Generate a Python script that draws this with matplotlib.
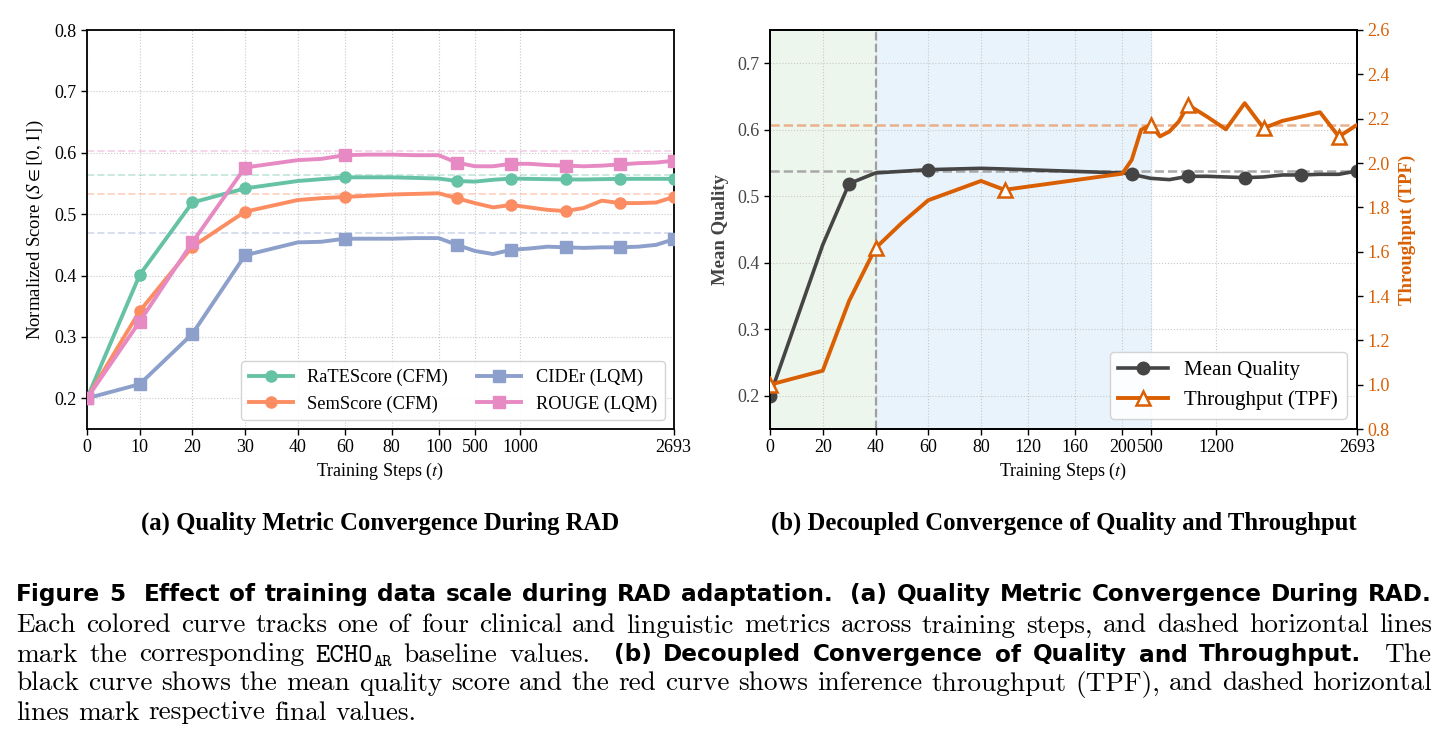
import numpy as np
import matplotlib.pyplot as plt
from matplotlib.lines import Line2D

plt.rcParams['font.family'] = 'Liberation Serif'
plt.rcParams['mathtext.fontset'] = 'stix'

# ---- (a) quality metrics ----
steps_a = [0, 10, 20, 30, 40, 50, 60, 70, 80, 90, 100, 300, 500, 700, 900,
           1100, 1300, 1500, 1700, 1900, 2100, 2300, 2500, 2693]
ratescore = [0.200, 0.401, 0.519, 0.542, 0.554, 0.557, 0.560, 0.560, 0.560, 0.559, 0.558, 0.554,
             0.553, 0.556, 0.558, 0.5575, 0.557, 0.5565, 0.5565, 0.557, 0.5575, 0.5575, 0.5575, 0.5575]
semscore = [0.200, 0.342, 0.447, 0.504, 0.523, 0.526, 0.528, 0.530, 0.532, 0.533, 0.534, 0.526,
            0.518, 0.511, 0.515, 0.511, 0.507, 0.505, 0.510, 0.522, 0.518, 0.518, 0.519, 0.528]
cider = [0.200, 0.223, 0.305, 0.433, 0.454, 0.455, 0.460, 0.460, 0.460, 0.461, 0.461, 0.450,
         0.440, 0.435, 0.442, 0.444, 0.447, 0.446, 0.445, 0.446, 0.446, 0.447, 0.450, 0.459]
rouge = [0.200, 0.325, 0.454, 0.576, 0.588, 0.590, 0.596, 0.597, 0.597, 0.596, 0.596, 0.584,
         0.578, 0.578, 0.582, 0.582, 0.580, 0.579, 0.578, 0.579, 0.581, 0.583, 0.584, 0.587]
baselines = [0.564, 0.533, 0.470, 0.603]   # ECHO_AR: RaTEScore, SemScore, CIDEr, ROUGE
names_a = ['RaTEScore (CFM)', 'SemScore (CFM)', 'CIDEr (LQM)', 'ROUGE (LQM)']
ticks_a = [0, 10, 20, 30, 40, 60, 80, 100, 500, 1000, 2693]

# ---- (b) quality vs throughput ----
steps_q = [0, 20, 30, 40, 60, 80, 100, 200, 300, 500, 700, 900, 1100, 1300, 1500,
           1700, 1900, 2100, 2300, 2500, 2693]
quality = [0.200, 0.427, 0.519, 0.535, 0.540, 0.542, 0.541, 0.535, 0.533, 0.527, 0.525,
           0.530, 0.530, 0.529, 0.528, 0.529, 0.532, 0.532, 0.533, 0.533, 0.538]
steps_t = [0, 20, 30, 40, 50, 60, 80, 100, 200, 300, 400, 500, 600, 700, 800, 900,
           1100, 1300, 1500, 1700, 1900, 2100, 2300, 2500, 2693]
tpf = [1.000, 1.063, 1.378, 1.616, 1.730, 1.832, 1.919, 1.879, 1.952, 2.014, 2.150, 2.172, 2.120,
       2.142, 2.187, 2.262, 2.209, 2.152, 2.270, 2.157, 2.190, 2.209, 2.229, 2.119, 2.172]
ticks_b = [0, 20, 40, 60, 80, 120, 160, 200, 500, 1200, 2693]

# caption text
cap1 = ('Figure 5  Effect of training data scale during RAD adaptation.  '
        '(a) Quality Metric Convergence During RAD.')
cap2 = ('Each colored curve tracks one of four clinical and linguistic metrics across '
        'training steps, and dashed horizontal lines')
cap3 = [('mark the corresponding ', 'rm'), ('ECHO', 'tt'), (' baseline values.  ', 'rm'),
        ('(b) Decoupled Convergence of Quality and Throughput.', 'bf'), ('  The', 'rm')]
cap4 = ('black curve shows the mean quality score and the red curve shows inference '
        'throughput (TPF), and dashed horizontal')
cap5 = 'lines mark respective final values.'

W, H = 1447, 753
fig = plt.figure(figsize=(W / 100, H / 100), dpi=100)


def piecewise(ks, kp):
    return (lambda x: np.interp(x, ks, kp), lambda y: np.interp(y, kp, ks))


def style_axes(ax):
    ax.grid(True, ls=':', color='#c8c8c8', lw=0.8)
    ax.set_axisbelow(True)
    for s in ax.spines.values():
        s.set_linewidth(1.3)
    ax.tick_params(labelsize=13, length=4, width=1)


# ---- panel (a) ----
ax = fig.add_axes([87 / W, 1 - 429 / H, 586.7 / W, 399 / H])
ax.set_xscale('function', functions=piecewise([0, 40, 100, 2693], [0, 210.7, 351.7, 586.7]))
colors_a = ['#66c2a5', '#fc8d62', '#8da0cb', '#e78ac3']
markers_a = ['o', 'o', 's', 's']
marks_a = [0, 1, 2, 3, 6, 11, 14, 17, 20, 23]
for vals, c, m, lab, b in zip([ratescore, semscore, cider, rouge], colors_a, markers_a, names_a, baselines):
    ax.axhline(b, color=c, ls='--', lw=1.4, alpha=0.35, zorder=1)
    ax.plot(steps_a, vals, color=c, lw=2.8, marker=m, ms=8, markevery=marks_a, label=lab, zorder=3)
ax.set_xlim(0, 2693)
ax.set_ylim(0.15, 0.8)
ax.set_xticks(ticks_a)
ax.set_xticklabels([str(t) for t in ticks_a])
ax.set_yticks([0.2, 0.3, 0.4, 0.5, 0.6, 0.7, 0.8])
style_axes(ax)
ax.set_xlabel('Training Steps ($t$)', fontsize=13, labelpad=3)
ax.set_ylabel(r'Normalized Score ($S \in [0, 1]$)', fontsize=13.5, labelpad=6)
ax.legend(ncol=2, loc='lower right', fontsize=13.2, handlelength=2.4, columnspacing=1.6,
          framealpha=0.9, edgecolor='#d0d0d0')

# ---- panel (b) ----
ax2 = fig.add_axes([770 / W, 1 - 429 / H, 587 / W, 399 / H])
ax2.set_xscale('function', functions=piecewise([0, 80, 200, 2693], [0, 211, 352.3, 587]))
ax2.axvspan(0, 40, color='#edf6ec', zorder=0)
ax2.axvspan(40, 500, color='#e8f3fc', zorder=0)
ax2.axvline(40, color='#a0a0a0', ls='--', lw=1.6, zorder=1)
ax2.axhline(quality[-1], color='#a8a8a8', ls='--', lw=1.8, zorder=1)
ax2.plot(steps_q, quality, color='#454545', lw=2.6, marker='o', ms=9,
         markevery=[0, 2, 4, 8, 11, 14, 17, 20], zorder=3)
ax2.set_xlim(0, 2693)
ax2.set_ylim(0.15, 0.75)
ax2.set_xticks(ticks_b)
ax2.set_xticklabels([str(t) for t in ticks_b])
ax2.set_yticks([0.2, 0.3, 0.4, 0.5, 0.6, 0.7])
style_axes(ax2)
ax2.tick_params(axis='y', labelcolor='#444444')
ax2.set_xlabel('Training Steps ($t$)', fontsize=13, labelpad=3)
ax2.set_ylabel('Mean Quality', fontsize=13.5, fontweight='bold', color='#444444', labelpad=6)

ax3 = ax2.twinx()
ax3.axhline(tpf[-1], color='#eab08a', ls='--', lw=1.8, zorder=1)
ax3.plot(steps_t, tpf, color='#d95f02', lw=2.8, marker='^', ms=10, mfc='white', mew=1.8,
         markevery=[0, 3, 7, 11, 15, 19, 23], zorder=3)
ax3.set_ylim(0.8, 2.6)
ax3.set_yticks([0.8, 1.0, 1.2, 1.4, 1.6, 1.8, 2.0, 2.2, 2.4, 2.6])
for s in ax3.spines.values():
    s.set_linewidth(1.3)
ax3.tick_params(axis='y', labelsize=13, labelcolor='#d95f02', length=4, width=1)
ax3.set_ylabel('Throughput (TPF)', fontsize=13.5, fontweight='bold', color='#d95f02', labelpad=6)
handles = [Line2D([], [], color='#454545', lw=2.6, marker='o', ms=9),
           Line2D([], [], color='#d95f02', lw=2.8, marker='^', ms=10, mfc='white', mew=1.8)]
ax3.legend(handles, ['Mean Quality', 'Throughput (TPF)'], loc='lower right', fontsize=15,
           handlelength=2.4, framealpha=0.9, edgecolor='#d0d0d0')

# ---- subtitles ----
fig.text(380.3 / W, 1 - 530 / H, '(a) Quality Metric Convergence During RAD',
         ha='center', va='baseline', fontsize=17.8, fontweight='bold')
fig.text(1063.5 / W, 1 - 530 / H, '(b) Decoupled Convergence of Quality and Throughput',
         ha='center', va='baseline', fontsize=17.8, fontweight='bold')

# ---- caption ----
renderer = fig.canvas.get_renderer()
styles = {'rm': dict(family='cmr10', size=17.5),
          'bf': dict(family='DejaVu Sans', weight='bold', size=16),
          'tt': dict(family='cmtt10', size=17.5)}
X0, X1 = 16, 1432


def fit_size(text, st):
    t = fig.text(0, 0, text, **styles[st])
    w = t.get_window_extent(renderer).width
    t.remove()
    return styles[st]['size'] * (X1 - X0) / w


styles['rm']['size'] = fit_size(cap2, 'rm') * 0.985
styles['tt']['size'] = styles['rm']['size']
styles['bf']['size'] = fit_size(cap1, 'bf') * 0.985


def caption_line(y_px, runs, justify=True):
    pieces, pending = [], 0
    for text, st in runs:
        for i, word in enumerate(text.split(' ')):
            if i > 0:
                pending += 1
            if word == '':
                continue
            arts = [fig.text(0, 1 - y_px / H, word, va='baseline', **styles[st])]
            width = arts[0].get_window_extent(renderer).width
            offs = [0]
            if st == 'tt':
                sub = fig.text(0, 1 - (y_px + 4) / H, 'AR', va='baseline', family='cmtt10',
                               size=styles['tt']['size'] * 0.65)
                arts.append(sub)
                offs.append(width)
                width += sub.get_window_extent(renderer).width
            pieces.append((arts, offs, width, pending if pieces else 0))
            pending = 0
    total = sum(p[2] for p in pieces)
    gaps = sum(p[3] for p in pieces)
    unit = (X1 - X0 - total) / gaps if justify else styles['rm']['size'] * 100 / 72 * 0.333
    x = X0
    for arts, offs, width, g in pieces:
        x += g * unit
        for a, o in zip(arts, offs):
            a.set_x((x + o) / W)
        x += width


caption_line(601, [(cap1, 'bf')])
caption_line(632.5, [(cap2, 'rm')])
caption_line(661.5, cap3)
caption_line(690.5, [(cap4, 'rm')])
caption_line(719.5, [(cap5, 'rm')], justify=False)

fig.savefig('out.png', dpi=100)
